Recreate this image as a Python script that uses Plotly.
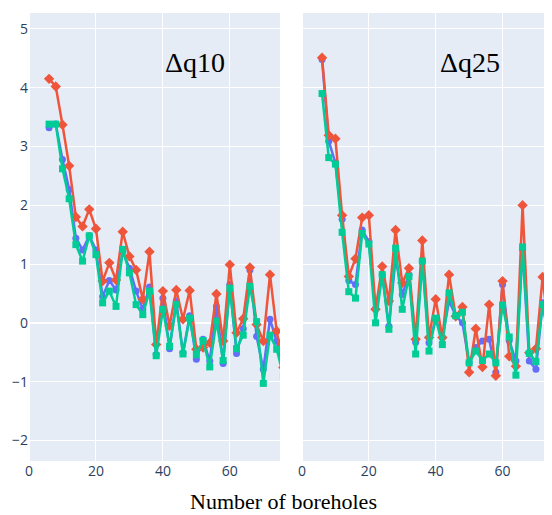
import plotly.graph_objects as go
from plotly.subplots import make_subplots

boreholes = [6, 8, 10, 12, 14, 16, 18, 20, 22, 24, 26, 28, 30, 32, 34, 36, 38, 40,
             42, 44, 46, 48, 50, 52, 54, 56, 58, 60, 62, 64, 66, 68, 70, 72, 74, 76]

# Δq10 panel
q10_blue = [3.32, 3.38, 2.78, 2.27, 1.44, 1.24, 1.48, 1.24, 0.45, 0.72, 0.56, 1.21,
            0.93, 0.54, 0.23, 0.61, -0.54, 0.42, -0.44, 0.37, -0.51, 0.12, -0.62, -0.28,
            -0.65, 0.28, -0.69, 0.65, -0.52, -0.10, 0.90, -0.23, -0.79, 0.06, -0.31, -0.80]
q10_red = [4.15, 4.02, 3.37, 2.67, 1.80, 1.64, 1.93, 1.60, 0.71, 1.02, 0.73, 1.55,
           1.13, 0.90, 0.40, 1.21, -0.37, 0.54, -0.05, 0.56, 0.06, 0.55, -0.45, -0.42,
           -0.34, 0.49, -0.31, 0.99, -0.17, 0.07, 0.94, -0.03, -0.31, 0.82, -0.14, -0.76]
q10_green = [3.38, 3.38, 2.62, 2.11, 1.33, 1.05, 1.48, 1.16, 0.34, 0.54, 0.28, 1.25,
             0.85, 0.31, 0.14, 0.54, -0.56, 0.23, -0.40, 0.31, -0.53, 0.08, -0.54, -0.30,
             -0.75, 0.03, -0.64, 0.59, -0.44, -0.21, 0.62, 0.02, -1.03, -0.21, -0.45, -0.90]

# Δq25 panel
q25_blue = [4.48, 3.09, 2.72, 1.76, 0.72, 0.65, 1.58, 1.38, 0.24, 0.82, -0.06, 1.10,
            0.48, 0.82, -0.33, 1.05, -0.34, 0.06, -0.25, 0.37, 0.12, 0.00, -0.68, -0.42,
            -0.31, -0.28, -0.84, 0.65, -0.30, -0.65, 1.25, -0.65, -0.79, 0.34, -0.33, -1.9]
q25_red = [4.51, 3.19, 3.13, 1.83, 0.79, 1.09, 1.79, 1.83, 0.23, 0.96, 0.37, 1.58,
           0.68, 0.93, -0.28, 1.40, -0.25, 0.40, -0.25, 0.82, 0.11, 0.27, -0.84, -0.10,
           -0.75, 0.31, -0.90, 0.71, -0.57, -0.74, 2.00, -0.51, -0.44, 0.78, -0.26, -1.8]
q25_green = [3.90, 2.81, 2.70, 1.54, 0.53, 0.42, 1.52, 1.34, 0.00, 0.82, -0.11, 1.27,
             0.23, 0.79, -0.53, 1.05, -0.48, 0.08, -0.37, 0.51, 0.12, 0.18, -0.68, -0.48,
             -0.64, -0.53, -0.68, 0.30, -0.24, -0.89, 1.29, -0.52, -0.66, 0.31, -0.27, -2.0]

panel_labels = ["Δq10", "Δq25"]
x_title = "Number of boreholes"

BLUE, RED, GREEN = "#636efa", "#EF553B", "#00cc96"

fig = make_subplots(rows=1, cols=2, shared_yaxes=True, horizontal_spacing=0.042)

panels = [(q10_blue, q10_red, q10_green), (q25_blue, q25_red, q25_green)]
for c, (b, r, g) in enumerate(panels, start=1):
    fig.add_trace(go.Scatter(x=boreholes, y=b, mode="lines+markers",
                             line=dict(color=BLUE, width=2.5),
                             marker=dict(symbol="circle", size=7, color=BLUE),
                             showlegend=False), row=1, col=c)
    fig.add_trace(go.Scatter(x=boreholes, y=r, mode="lines+markers",
                             line=dict(color=RED, width=2.5),
                             marker=dict(symbol="diamond", size=8, color=RED),
                             showlegend=False), row=1, col=c)
    fig.add_trace(go.Scatter(x=boreholes, y=g, mode="lines+markers",
                             line=dict(color=GREEN, width=2.5),
                             marker=dict(symbol="square", size=7, color=GREEN),
                             showlegend=False), row=1, col=c)

fig.update_xaxes(range=[0, 75], tickvals=[0, 20, 40, 60], tickfont=dict(size=14),
                 automargin=False)
fig.update_xaxes(domain=[0, 0.48], row=1, col=1)
fig.update_xaxes(domain=[0.522, 1], range=[0, 74.8], row=1, col=2)
fig.update_yaxes(range=[-2.35, 5.27], tickvals=[-2, -1, 0, 1, 2, 3, 4, 5],
                 tickfont=dict(size=14), automargin=False)
fig.update_yaxes(showticklabels=False, row=1, col=2)

serif = "Liberation Serif, Times New Roman, serif"
fig.add_annotation(text=panel_labels[0], xref="paper", yref="paper", x=0.317, y=0.89,
                   xanchor="center", yanchor="middle",
                   showarrow=False, font=dict(family=serif, size=28, color="black"))
fig.add_annotation(text=panel_labels[1], xref="paper", yref="paper", x=0.843, y=0.89,
                   xanchor="center", yanchor="middle",
                   showarrow=False, font=dict(family=serif, size=28, color="black"))
fig.add_annotation(text=x_title, xref="paper", yref="paper", x=0.486, y=-0.091,
                   xanchor="center", yanchor="middle",
                   showarrow=False, font=dict(family=serif, size=22, color="black"))

# page body adds an 8px offset, so the figure is 8px smaller on each axis
fig.update_layout(width=544, height=507, template="plotly",
                  margin=dict(l=21, r=0, t=5, b=54, autoexpand=False),
                  paper_bgcolor="white")

fig.write_html("out.html")
